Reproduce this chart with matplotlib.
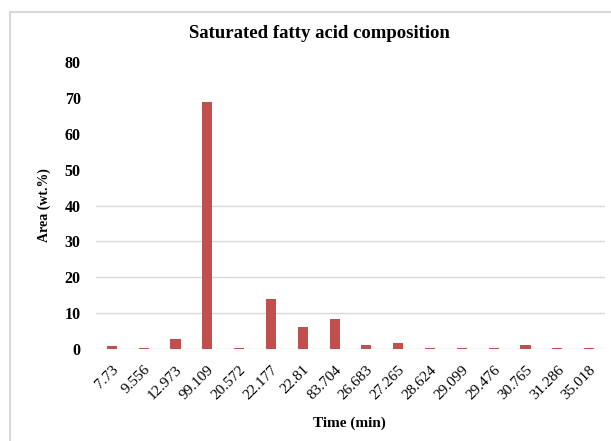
# Saturated fatty acid composition bar chart
import matplotlib.pyplot as plt
from matplotlib.patches import Rectangle

times = ["7.73", "9.556", "12.973", "99.109", "20.572", "22.177", "22.81",
         "83.704", "26.683", "27.265", "28.624", "29.099", "29.476",
         "30.765", "31.286", "35.018"]
area = [0.9, 0.4, 2.8, 68.8, 0.4, 14.0, 6.2, 8.4, 1.1, 1.7, 0.3, 0.3, 0.3,
        1.1, 0.3, 0.3]
yticks = [0, 10, 20, 30, 40, 50, 60, 70, 80]
grid_levels = [0, 10, 20, 30, 40]

plt.rcParams['font.family'] = ['Liberation Serif', 'DejaVu Serif']

fig = plt.figure(figsize=(6.11, 4.41), dpi=100)
# light gray chart frame
fig.patches.append(Rectangle((10/611, -0.05), 1.2, 1 - 12/441 + 0.05,
                             transform=fig.transFigure, fill=False,
                             edgecolor="#d9d9d9", linewidth=1.5))

ax = fig.add_axes([96/611, 1 - 349/441, 509/611, 287/441])
x = range(len(times))
ax.bar(x, area, width=0.32, color="#c0504d", zorder=3)
for g in grid_levels:
    ax.axhline(g, color="#d9d9d9", linewidth=1, zorder=1)

ax.set_xlim(-0.5, len(times) - 0.5)
ax.set_ylim(0, 80)
ax.set_yticks(yticks)
ax.set_yticklabels([str(v) for v in yticks], fontsize=11.5, fontweight="bold")
ax.set_xticks(list(x))
ax.set_xticklabels(times, rotation=45, ha="right", rotation_mode="anchor",
                   fontsize=11)
ax.tick_params(axis="y", length=0, pad=11)
ax.tick_params(axis="x", length=0, pad=10)
for s in ax.spines.values():
    s.set_visible(False)

fig.text(319/611, 1 - 33/441, "Saturated fatty acid composition",
         ha="center", va="center", fontsize=13.5, fontweight="bold")
fig.text(44/611, 1 - 205/441, "Area (wt.%)", rotation=90,
         ha="center", va="center", fontsize=10, fontweight="bold")
fig.text(349/611, 1 - 423/441, "Time (min)", ha="center", va="center",
         fontsize=11, fontweight="bold")

fig.savefig("out.png", dpi=100)
